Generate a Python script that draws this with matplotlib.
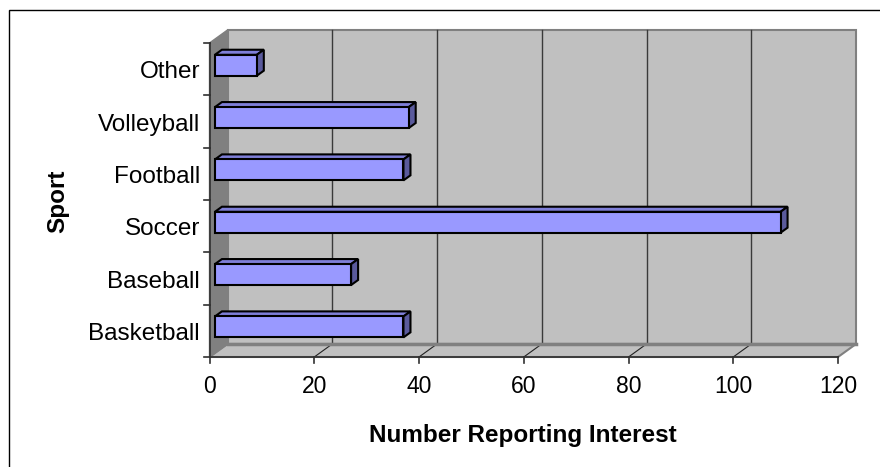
import numpy as np
import matplotlib
matplotlib.use("Agg")
import matplotlib.pyplot as plt
from matplotlib.patches import Polygon, Rectangle
from matplotlib.lines import Line2D

# DATA
sports = ["Basketball", "Baseball", "Soccer", "Football", "Volleyball", "Other"]
interest = [36, 26, 108, 36, 37, 8]
x_ticks = [0, 20, 40, 60, 80, 100, 120]

# STYLE
DPI = 100
DEPTH = np.array([18.0, 13.0])   # wall depth in pixels (right, up)
BAR_FRONT = 0.30                 # bar front face depth (fraction of DEPTH)
BAR_BACK = 0.69
BAR_H = 0.40
FONT = "Liberation Sans"

plt.rcParams["font.family"] = [FONT, "DejaVu Sans"]

fig = plt.figure(figsize=(8.8, 4.67), dpi=DPI)
fig.patch.set_facecolor("white")

# outer chart frame (right/bottom run off the picture)
fig.add_artist(Rectangle((8.5 / 880, -0.1), 1.2, 1 - 9.5 / 467 + 0.1, transform=fig.transFigure,
                         fill=False, edgecolor="black", linewidth=1.0))

ax = fig.add_axes([209.5 / 880, 110 / 467, 628.5 / 880, 314 / 467])
ax.set_xlim(0, 120)
ax.set_ylim(-0.5, len(sports) - 0.5)
ax.axis("off")

n = len(sports)
ymin, ymax = -0.5, n - 0.5


def pt(v, c, d=0.0):
    # data point -> display pixels, pushed back by depth d
    p = ax.transData.transform((v, c))
    return p + d * DEPTH


def poly(points, **kw):
    ax.add_patch(Polygon(points, closed=True, transform=None, clip_on=False, **kw))


def line(p0, p1, **kw):
    ax.add_line(Line2D([p0[0], p1[0]], [p0[1], p1[1]], transform=None, clip_on=False, **kw))


# back wall
poly([pt(0, ymin, 1), pt(120, ymin, 1), pt(120, ymax, 1), pt(0, ymax, 1)],
     facecolor="#c0c0c0", edgecolor="#808080", linewidth=1.5, zorder=1)
# floor
poly([pt(0, ymin, 0), pt(120, ymin, 0), pt(120, ymin, 1), pt(0, ymin, 1)],
     facecolor="#c0c0c0", edgecolor="#808080", linewidth=1.5, zorder=1)
# left wall
poly([pt(0, ymin, 0), pt(0, ymax, 0), pt(0, ymax, 1), pt(0, ymin, 1)],
     facecolor="#808080", edgecolor="#808080", linewidth=1, zorder=1)

# gridlines on back wall and floor
for v in x_ticks[1:-1]:
    line(pt(v, ymin, 1), pt(v, ymax, 1), color="#3a3a3a", linewidth=1, zorder=2)
    line(pt(v, ymin, 0), pt(v, ymin, 1), color="#222222", linewidth=0.8, zorder=2)
line(pt(0, ymin, 1), pt(120, ymin, 1), color="#808080", linewidth=2.5, zorder=2)

# bars
for i, v in enumerate(interest):
    lo, hi = i - BAR_H / 2, i + BAR_H / 2
    kw = dict(edgecolor="black", linewidth=1.5, joinstyle="miter", zorder=4)
    poly([pt(0, hi, BAR_FRONT), pt(v, hi, BAR_FRONT), pt(v, hi, BAR_BACK), pt(0, hi, BAR_BACK)],
         facecolor="#7f7fd8", **kw)
    poly([pt(v, lo, BAR_FRONT), pt(v, hi, BAR_FRONT), pt(v, hi, BAR_BACK), pt(v, lo, BAR_BACK)],
         facecolor="#5a5a9c", **kw)
    poly([pt(0, lo, BAR_FRONT), pt(v, lo, BAR_FRONT), pt(v, hi, BAR_FRONT), pt(0, hi, BAR_FRONT)],
         facecolor="#9999ff", **kw)

# front axes lines and ticks
line(pt(0, ymin), pt(120, ymin), color="#303030", linewidth=1.2, zorder=5)
line(pt(0, ymin), pt(0, ymax), color="#303030", linewidth=1.2, zorder=5)
for v in x_ticks:
    p = pt(v, ymin)
    line(p, p - np.array([0, 6]), color="#303030", linewidth=1.2, zorder=5)
    ax.annotate(str(v), (v, ymin), xytext=(0, -36), textcoords="offset pixels",
                ha="center", va="baseline", fontsize=16.5, annotation_clip=False)
for k in range(n + 1):
    p = pt(0, k - 0.5)
    line(p, p - np.array([6, 0]), color="#303030", linewidth=1.2, zorder=5)
for i, s in enumerate(sports):
    ax.annotate(s, (0, i), xytext=(-9.5, -9), textcoords="offset pixels",
                ha="right", va="baseline", fontsize=17.5, annotation_clip=False)

fig.text(523 / 880, 1 - 442 / 467, "Number Reporting Interest", ha="center", va="baseline",
         fontsize=17.5, fontweight="bold")
fig.text(57.5 / 880, 1 - 201 / 467, "Sport", ha="center", va="center", rotation=90,
         fontsize=17.5, fontweight="bold")

fig.savefig("out.png", dpi=DPI)
